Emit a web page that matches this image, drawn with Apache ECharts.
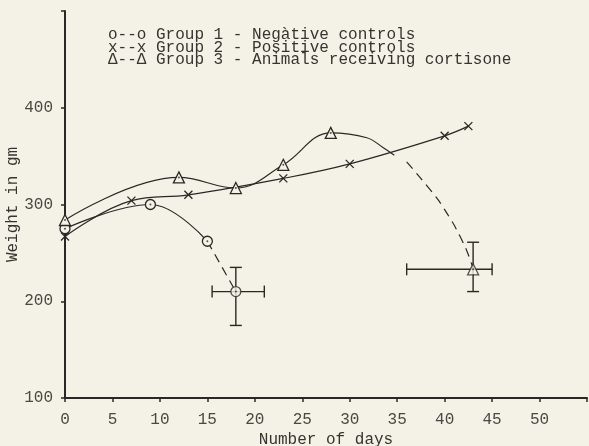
<!DOCTYPE html>
<html>
<head>
<meta charset="utf-8">
<script src="https://cdn.jsdelivr.net/npm/echarts@6.0.0/dist/echarts.min.js"></script>
<style>
  html, body { margin: 0; padding: 0; background: #f4f2e7; }
  #chart { width: 589px; height: 446px; }
</style>
</head>
<body>
<div id="chart"></div>
<script>
const g1Days = [0, 9, 15, 18];
const g1Weight = [275, 300, 262, 210];
const g2Days = [0, 7, 13, 23, 30, 40, 42.5];
const g2Weight = [267, 304, 310, 327, 342, 371, 381];
const g3Days = [0, 12, 18, 23, 28, 43];
const g3Weight = [284, 328, 317, 341, 374, 233];

// traced path of the group 3 curve after the peak (solid part, then dashed part)
const g3ArcDays = [28, 31.8, 33.5, 34.7];
const g3ArcWeight = [374, 369, 359, 351];
const g3DropDays = [36, 37.4, 39.3, 40.3, 41.1, 42.3, 43];
const g3DropWeight = [344, 328, 305, 290, 277, 253, 234];

// error bars on the last point: [day, weight, dayLo, dayHi, weightLo, weightHi]
const errorBars = [
  [18, 210, 15.5, 21, 175, 235],
  [43, 233, 36, 45, 210, 261]
];

const xTicks = [0, 5, 10, 15, 20, 25, 30, 35, 40, 45, 50];
const yTicks = [100, 200, 300, 400];

const ink = "#2a2825";
const paper = "#f4f2e7";
const mono = "Liberation Mono";

const zip = (xs, ys) => xs.map((x, i) => [x, ys[i]]);

const chart = echarts.init(document.getElementById("chart"));

const option = {
  backgroundColor: paper,
  animation: false,
  grid: { left: 65, right: 2, top: 11, bottom: 48, outerBoundsMode: "none", containLabel: false },
  xAxis: {
    type: "value",
    min: 0,
    max: 55,
    interval: 5,
    name: "Number of days",
    nameLocation: "middle",
    nameGap: 34,
    nameMoveOverlap: false,
    nameTextStyle: { fontFamily: mono, fontSize: 16, color: "#36342f" },
    axisLine: { lineStyle: { color: ink, width: 2 } },
    axisTick: { length: 4, lineStyle: { color: ink, width: 1.5 } },
    axisLabel: {
      margin: 14,
      fontFamily: mono,
      fontSize: 16,
      color: "#4a4843",
      formatter: v => (xTicks.includes(v) ? String(v) : "")
    },
    splitLine: { show: false }
  },
  yAxis: {
    type: "value",
    min: 100,
    max: 500,
    interval: 100,
    name: "Weight in gm",
    nameLocation: "middle",
    nameGap: 44,
    nameRotate: 90,
    nameMoveOverlap: false,
    nameTextStyle: { fontFamily: mono, fontSize: 16, color: "#36342f" },
    axisLine: { lineStyle: { color: ink, width: 2 } },
    axisTick: { length: 4, lineStyle: { color: ink, width: 1.5 } },
    axisLabel: {
      margin: 12,
      fontFamily: mono,
      fontSize: 16,
      color: "#4a4843",
      formatter: v => (yTicks.includes(v) ? String(v) : "")
    },
    splitLine: { show: false }
  },
  graphic: [
    {
      type: "text",
      left: 108,
      top: 27,
      style: {
        text: "o--o Group 1 - Negàtive controls\nx--x Group 2 - Positive controls\nΔ--Δ Group 3 - Animals receiving cortisone",
        font: "16px " + mono,
        lineHeight: 12.5,
        fill: "#36342f"
      }
    }
  ],
  series: [
    {
      name: "Group 2",
      type: "line",
      smooth: 0.4,
      data: zip(g2Days, g2Weight),
      symbol: "path://M0,0L10,10M10,0L0,10",
      symbolSize: 8,
      itemStyle: { color: "none", borderColor: ink, borderWidth: 1.3 },
      lineStyle: { color: ink, width: 1.2 },
      z: 2
    },
    {
      name: "Group 1",
      type: "line",
      smooth: 0.4,
      data: zip(g1Days.slice(0, 3), g1Weight.slice(0, 3)),
      symbol: "circle",
      symbolSize: 10,
      itemStyle: { color: paper, borderColor: ink, borderWidth: 1.3 },
      lineStyle: { color: ink, width: 1.2 },
      z: 3
    },
    {
      name: "Group 1 drop",
      type: "line",
      data: zip(g1Days.slice(2), g1Weight.slice(2)),
      symbol: "none",
      lineStyle: { color: ink, width: 1.2, type: [9, 6] },
      z: 1
    },
    {
      name: "Group 3",
      type: "line",
      smooth: 0.4,
      data: zip(g3Days.slice(0, 5), g3Weight.slice(0, 5)).concat(
        zip(g3ArcDays.slice(1), g3ArcWeight.slice(1)).map(p => ({ value: p, symbol: "none" }))
      ),
      symbol: "triangle",
      symbolSize: 11,
      itemStyle: { color: paper, borderColor: ink, borderWidth: 1.3 },
      lineStyle: { color: ink, width: 1.2 },
      z: 3
    },
    {
      name: "Group 3 drop",
      type: "line",
      smooth: 0.3,
      data: zip(g3DropDays, g3DropWeight),
      symbol: "none",
      lineStyle: { color: ink, width: 1.2, type: [9, 6] },
      z: 1
    },
    {
      name: "Group 3 last",
      type: "scatter",
      data: [[g3Days[5], g3Weight[5]]],
      symbol: "triangle",
      symbolSize: 11,
      itemStyle: { color: paper, borderColor: ink, borderWidth: 1.3 },
      z: 4
    },
    {
      name: "Group 1 last",
      type: "scatter",
      data: [[g1Days[3], g1Weight[3]]],
      symbol: "circle",
      symbolSize: 10,
      itemStyle: { color: paper, borderColor: ink, borderWidth: 1.3 },
      z: 4
    },
    {
      name: "centre dots",
      type: "scatter",
      data: zip(g1Days, g1Weight).concat(zip(g3Days, g3Weight)),
      symbol: "circle",
      symbolSize: 2,
      itemStyle: { color: ink },
      z: 5
    },
    {
      name: "error bars",
      type: "custom",
      data: errorBars,
      z: 2,
      renderItem: (params, api) => {
        const lo = api.coord([api.value(2), api.value(4)]);
        const hi = api.coord([api.value(3), api.value(5)]);
        const c = api.coord([api.value(0), api.value(1)]);
        const cap = 6;
        const st = { stroke: ink, lineWidth: 1.4 };
        const seg = (x1, y1, x2, y2) => ({ type: "line", shape: { x1, y1, x2, y2 }, style: st });
        return {
          type: "group",
          children: [
            seg(lo[0], c[1], hi[0], c[1]),
            seg(lo[0], c[1] - cap, lo[0], c[1] + cap),
            seg(hi[0], c[1] - cap, hi[0], c[1] + cap),
            seg(c[0], lo[1], c[0], hi[1]),
            seg(c[0] - cap, lo[1], c[0] + cap, lo[1]),
            seg(c[0] - cap, hi[1], c[0] + cap, hi[1])
          ]
        };
      }
    }
  ]
};

chart.setOption(option);
</script>
</body>
</html>
